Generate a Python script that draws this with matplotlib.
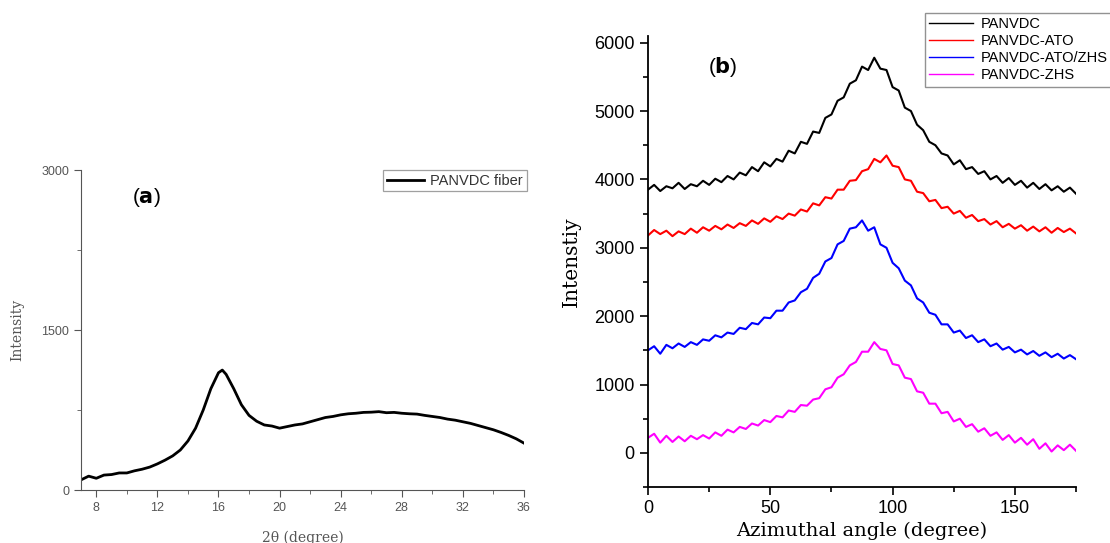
import numpy as np
import matplotlib
matplotlib.use("Agg")
import matplotlib.pyplot as plt
from matplotlib.ticker import MultipleLocator

# ---------------- data: panel (a) ----------------
theta_a = [7, 7.5, 8, 8.5, 9, 9.5, 10, 10.5, 11, 11.5, 12, 12.5, 13, 13.5, 14, 14.5,
           15, 15.5, 16, 16.25, 16.5, 17, 17.5, 18, 18.5, 19, 19.5, 20, 20.5, 21, 21.5,
           22, 22.5, 23, 23.5, 24, 24.5, 25, 25.5, 26, 26.5, 27, 27.5, 28, 28.5, 29,
           29.5, 30, 30.5, 31, 31.5, 32, 32.5, 33, 33.5, 34, 34.5, 35, 35.5, 36]
inten_a = [95, 130, 110, 140, 145, 160, 160, 180, 195, 215, 245, 280, 320, 375, 460, 580,
           750, 950, 1100, 1125, 1085, 950, 800, 700, 645, 610, 600, 580, 595, 610, 620,
           640, 660, 680, 690, 705, 715, 720, 728, 730, 735, 725, 728, 720, 715, 712,
           700, 690, 680, 665, 655, 640, 625, 605, 585, 565, 540, 512, 480, 440]

# ---------------- data: panel (b) ----------------
panvdc = [3850, 3920, 3830, 3900, 3870, 3950, 3860, 3930, 3900, 3980, 3920, 4010, 3960, 4050,
          4000, 4100, 4060, 4180, 4120, 4250, 4190, 4300, 4260, 4420, 4380, 4550, 4520, 4700,
          4680, 4900, 4950, 5150, 5200, 5400, 5450, 5650, 5600, 5780, 5620, 5600, 5350, 5300,
          5050, 5000, 4800, 4720, 4550, 4500, 4380, 4350, 4220, 4280, 4150, 4180, 4080, 4120,
          4000, 4050, 3950, 4020, 3920, 3980, 3880, 3950, 3860, 3930, 3840, 3900, 3820, 3880, 3790]
panvdc_ato = [3180, 3260, 3200, 3250, 3170, 3240, 3200, 3280, 3220, 3300, 3250, 3320, 3270, 3340,
              3290, 3360, 3320, 3400, 3350, 3430, 3380, 3460, 3420, 3500, 3470, 3560, 3530, 3650,
              3620, 3740, 3720, 3850, 3850, 3980, 3990, 4120, 4150, 4300, 4250, 4350, 4200, 4180,
              4000, 3980, 3820, 3800, 3680, 3700, 3580, 3600, 3500, 3540, 3440, 3480, 3390, 3420,
              3340, 3390, 3300, 3350, 3280, 3330, 3250, 3310, 3240, 3300, 3220, 3290, 3230, 3280, 3210]
panvdc_ato_zhs = [1500, 1560, 1450, 1580, 1530, 1600, 1550, 1620, 1580, 1660, 1640, 1720, 1690, 1760,
                  1740, 1830, 1810, 1900, 1880, 1980, 1970, 2080, 2080, 2200, 2230, 2350, 2400, 2560,
                  2620, 2800, 2850, 3050, 3100, 3280, 3300, 3400, 3250, 3300, 3050, 3000, 2780, 2700,
                  2520, 2450, 2260, 2200, 2050, 2020, 1880, 1880, 1760, 1790, 1680, 1720, 1620, 1660,
                  1560, 1600, 1510, 1550, 1470, 1510, 1440, 1490, 1420, 1470, 1400, 1450, 1380, 1430, 1370]
panvdc_zhs = [220, 280, 150, 250, 160, 240, 170, 250, 200, 260, 210, 300, 250, 340,
              300, 380, 350, 430, 400, 480, 450, 540, 520, 620, 600, 700, 690, 780,
              800, 930, 960, 1100, 1150, 1280, 1330, 1480, 1480, 1620, 1520, 1500, 1300, 1280,
              1100, 1080, 900, 880, 720, 720, 580, 600, 460, 500, 380, 420, 310, 360,
              250, 300, 190, 260, 150, 220, 120, 200, 60, 140, 20, 110, 40, 120, 30]
series_b = [("PANVDC", panvdc, "black"),
            ("PANVDC-ATO", panvdc_ato, "red"),
            ("PANVDC-ATO/ZHS", panvdc_ato_zhs, "blue"),
            ("PANVDC-ZHS", panvdc_zhs, "magenta")]
angle_b = np.linspace(0, 175, len(panvdc))

plt.rcParams['font.family'] = ['Liberation Sans', 'DejaVu Sans']
fig = plt.figure(figsize=(11.10, 5.43), dpi=100)

# ---------------- panel (a) ----------------
gray = "#555555"
axa = fig.add_axes([0.073, 0.0976, 0.399, 0.589])
axa.plot(theta_a, inten_a, color="black", lw=2.0, label="PANVDC fiber")
axa.set_xlim(7, 36)
axa.set_ylim(0, 3000)
axa.xaxis.set_major_locator(MultipleLocator(4))
axa.xaxis.set_minor_locator(MultipleLocator(2))
axa.yaxis.set_major_locator(MultipleLocator(1500))
axa.yaxis.set_minor_locator(MultipleLocator(750))
for s in ["top", "right"]:
    axa.spines[s].set_visible(False)
for s in ["left", "bottom"]:
    axa.spines[s].set_color(gray)
axa.tick_params(which="both", direction="out", colors=gray, labelsize=9)
axa.tick_params(which="major", length=5)
axa.tick_params(which="minor", length=3)
axa.set_xlabel("2θ (degree)", family="DejaVu Serif", fontsize=10, color=gray, labelpad=12)
axa.set_ylabel("Intensity", family="DejaVu Serif", fontsize=10, color=gray, labelpad=12)
axa.text(0.115, 0.915, r"($\mathbf{a}$)", transform=axa.transAxes, fontsize=15,
         color="black", ha="left", va="center")
lega = axa.legend(loc="upper right", bbox_to_anchor=(1.006, 1.0), borderaxespad=0,
                  frameon=True, fancybox=False, fontsize=10.5, handlelength=2.6,
                  borderpad=0.25, handletextpad=0.4)
lega.get_frame().set_edgecolor("#888888")
lega.get_frame().set_linewidth(0.9)
for t in lega.get_texts():
    t.set_color("#333333")

# ---------------- panel (b) ----------------
axb = fig.add_axes([0.5838, 0.103, 0.3856, 0.831])
for name, vals, col in series_b:
    axb.plot(angle_b, vals, color=col, lw=1.5, label=name)
axb.set_xlim(0, 175)
axb.set_ylim(-500, 6100)
axb.xaxis.set_major_locator(MultipleLocator(50))
axb.xaxis.set_minor_locator(MultipleLocator(25))
axb.yaxis.set_major_locator(MultipleLocator(1000))
axb.yaxis.set_minor_locator(MultipleLocator(500))
for s in ["top", "right"]:
    axb.spines[s].set_visible(False)
for s in ["left", "bottom"]:
    axb.spines[s].set_linewidth(1.3)
axb.tick_params(which="both", direction="out", labelsize=13, width=1.2)
axb.tick_params(which="major", length=6)
axb.tick_params(which="minor", length=3.5)
axb.set_xlabel("Azimuthal angle (degree)", family="DejaVu Serif", fontsize=14, labelpad=3)
axb.set_ylabel("Intenstiy", family="DejaVu Serif", fontsize=14.5, labelpad=10)
axb.text(0.14, 0.93, r"($\mathbf{b}$)", transform=axb.transAxes, fontsize=15,
         ha="left", va="center")
hb, lb = axb.get_legend_handles_labels()
legb = fig.legend(hb, lb, loc="upper left", bbox_to_anchor=(925 / 1110, 1 - 13 / 543),
                  frameon=True, fancybox=False, fontsize=10.5, handlelength=3.0,
                  borderpad=0.3, labelspacing=0.2, handletextpad=0.5, borderaxespad=0)
legb.get_frame().set_edgecolor("#777777")
legb.get_frame().set_linewidth(1.0)
for ln in legb.get_lines():
    ln.set_linewidth(1.0)

fig.savefig("out.png", dpi=100)
